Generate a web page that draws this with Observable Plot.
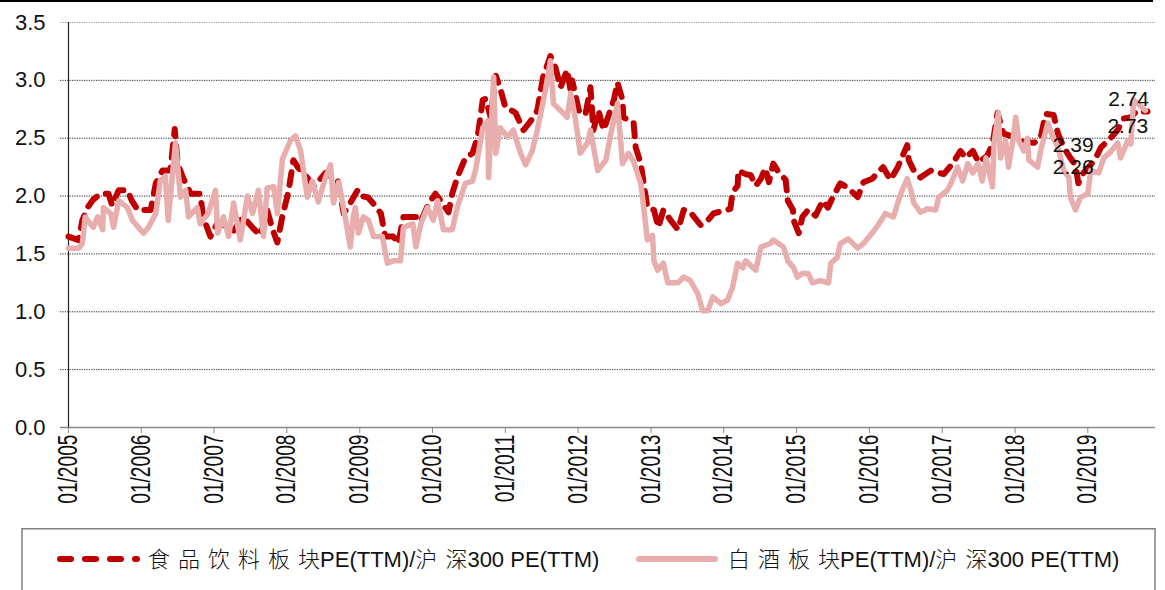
<!DOCTYPE html>
<html>
<head>
<meta charset="utf-8">
<script src="https://cdn.jsdelivr.net/npm/d3@7"></script>
<script src="https://cdn.jsdelivr.net/npm/@observablehq/plot@0.6"></script>
<style>
  html, body { margin: 0; padding: 0; background: #fff; }
  #wrap { position: relative; width: 1165px; height: 590px; overflow: hidden; }
  #topline { position: absolute; left: 0; top: 0; width: 1153px; height: 0; border-top: 2px solid #000; }
  #legend { display: block; }
</style>
</head>
<body>
<div id="wrap"><div id="topline"></div><div id="chart"></div></div>
<script>
// 食品饮料板块PE(TTM)/沪深300 PE(TTM) — [decimal year, value]
const foodSeries = [
  [2005.00,1.65],[2005.14,1.62],[2005.19,1.79],[2005.26,1.90],[2005.34,1.97],[2005.44,2.02],[2005.55,2.02],[2005.60,1.92],
  [2005.69,2.05],[2005.81,2.05],[2005.87,1.96],[2005.95,1.88],[2006.13,1.88],[2006.20,2.11],[2006.29,2.22],[2006.40,2.22],
  [2006.46,2.58],[2006.50,2.28],[2006.58,2.15],[2006.68,2.02],[2006.81,2.02],[2006.85,1.82],[2006.95,1.65],[2007.05,1.77],
  [2007.13,1.75],[2007.27,1.70],[2007.40,1.82],[2007.54,1.72],[2007.64,1.66],[2007.73,1.88],[2007.80,1.72],[2007.87,1.60],
  [2007.94,1.83],[2008.02,2.03],[2008.09,2.31],[2008.15,2.25],[2008.28,2.16],[2008.37,2.08],[2008.53,2.20],[2008.70,2.13],
  [2008.78,1.85],[2008.87,1.94],[2008.97,2.05],[2009.01,2.00],[2009.11,1.99],[2009.18,1.94],[2009.29,1.85],[2009.35,1.65],
  [2009.46,1.65],[2009.53,1.59],[2009.60,1.82],[2009.79,1.82],[2009.84,1.78],[2009.95,1.94],[2010.04,2.02],[2010.11,1.96],
  [2010.22,1.86],[2010.27,2.02],[2010.34,2.16],[2010.45,2.33],[2010.55,2.37],[2010.62,2.51],[2010.69,2.83],[2010.73,2.84],
  [2010.80,2.68],[2010.87,3.04],[2010.93,2.93],[2011.00,2.77],[2011.14,2.72],[2011.25,2.57],[2011.35,2.65],[2011.44,2.74],
  [2011.52,3.03],[2011.62,3.21],[2011.69,3.11],[2011.76,2.94],[2011.85,3.09],[2011.90,2.90],[2011.92,3.00],[2012.01,2.74],
  [2012.10,2.70],[2012.17,2.94],[2012.21,2.57],[2012.28,2.74],[2012.35,2.57],[2012.49,2.83],[2012.54,2.98],[2012.61,2.83],
  [2012.62,2.68],[2012.76,2.64],[2012.79,2.42],[2012.86,2.28],[2012.90,2.11],[2012.95,1.90],[2013.04,1.88],[2013.10,1.73],
  [2013.17,1.88],[2013.27,1.79],[2013.37,1.71],[2013.45,1.88],[2013.54,1.86],[2013.68,1.75],[2013.78,1.79],[2013.86,1.85],
  [2014.09,1.89],[2014.12,2.03],[2014.19,2.09],[2014.20,2.22],[2014.30,2.19],[2014.37,2.18],[2014.44,2.09],[2014.51,2.15],
  [2014.57,2.24],[2014.62,2.12],[2014.68,2.28],[2014.75,2.21],[2014.85,2.14],[2014.88,1.96],[2014.95,1.88],[2014.96,1.79],
  [2015.03,1.68],[2015.08,1.82],[2015.16,1.88],[2015.26,1.83],[2015.36,1.96],[2015.43,1.90],[2015.49,1.98],[2015.60,2.11],
  [2015.71,2.07],[2015.84,1.99],[2015.92,2.12],[2016.04,2.15],[2016.19,2.25],[2016.29,2.14],[2016.39,2.25],[2016.43,2.31],
  [2016.52,2.44],[2016.54,2.31],[2016.61,2.22],[2016.70,2.16],[2016.84,2.22],[2017.02,2.19],[2017.14,2.28],[2017.25,2.39],
  [2017.32,2.33],[2017.42,2.39],[2017.50,2.29],[2017.62,2.35],[2017.69,2.45],[2017.76,2.72],[2017.84,2.54],[2017.94,2.52],
  [2018.08,2.47],[2018.26,2.46],[2018.35,2.50],[2018.42,2.71],[2018.53,2.70],[2018.59,2.54],[2018.67,2.42],[2018.76,2.33],
  [2018.83,2.27],[2018.87,2.11],[2018.94,2.20],[2019.04,2.27],[2019.11,2.33],[2019.18,2.42],[2019.31,2.50],[2019.41,2.57],
  [2019.49,2.67],[2019.59,2.68],[2019.68,2.74],[2019.77,2.73],[2019.82,2.73]
];

// 白酒板块PE(TTM)/沪深300 PE(TTM) — [decimal year, value]
const liquorSeries = [
  [2005.00,1.55],[2005.14,1.55],[2005.19,1.59],[2005.23,1.82],[2005.30,1.76],[2005.34,1.73],[2005.40,1.82],[2005.47,1.71],
  [2005.48,1.90],[2005.58,1.85],[2005.62,1.73],[2005.69,1.96],[2005.81,1.90],[2005.88,1.79],[2005.96,1.73],[2006.03,1.68],
  [2006.10,1.73],[2006.20,1.85],[2006.26,2.13],[2006.33,2.17],[2006.37,1.79],[2006.47,2.46],[2006.54,1.99],[2006.61,2.05],
  [2006.65,1.82],[2006.77,1.90],[2006.81,1.76],[2006.92,1.85],[2007.02,2.05],[2007.05,1.68],[2007.13,1.82],[2007.20,1.65],
  [2007.27,1.94],[2007.36,1.62],[2007.46,2.00],[2007.53,1.85],[2007.61,2.05],[2007.68,1.65],[2007.73,2.07],[2007.82,2.08],
  [2007.87,1.85],[2007.94,2.32],[2008.05,2.48],[2008.12,2.52],[2008.19,2.39],[2008.28,1.99],[2008.35,2.13],[2008.43,1.95],
  [2008.53,2.16],[2008.60,2.27],[2008.64,1.94],[2008.71,2.12],[2008.80,1.82],[2008.87,1.56],[2008.91,1.82],[2008.94,1.90],
  [2008.98,1.68],[2009.05,1.82],[2009.12,1.79],[2009.19,1.65],[2009.31,1.65],[2009.38,1.42],[2009.46,1.44],[2009.56,1.44],
  [2009.60,1.73],[2009.73,1.76],[2009.77,1.56],[2009.84,1.76],[2009.93,1.90],[2010.01,1.79],[2010.07,1.96],[2010.15,1.71],
  [2010.27,1.71],[2010.34,1.90],[2010.45,2.11],[2010.55,2.13],[2010.59,2.22],[2010.69,2.59],[2010.76,2.65],[2010.77,2.16],
  [2010.84,3.03],[2010.87,2.37],[2010.93,2.59],[2011.03,2.51],[2011.11,2.57],[2011.21,2.37],[2011.28,2.27],[2011.37,2.39],
  [2011.44,2.57],[2011.55,2.91],[2011.62,3.17],[2011.66,2.80],[2011.76,2.74],[2011.85,2.68],[2011.90,2.89],[2011.96,2.68],
  [2012.03,2.37],[2012.13,2.46],[2012.17,2.57],[2012.27,2.22],[2012.38,2.31],[2012.45,2.54],[2012.54,2.80],[2012.61,2.28],
  [2012.69,2.37],[2012.76,2.30],[2012.86,2.11],[2012.90,1.90],[2012.95,1.62],[2013.02,1.66],[2013.04,1.44],[2013.09,1.36],
  [2013.17,1.42],[2013.23,1.25],[2013.37,1.25],[2013.45,1.30],[2013.54,1.27],[2013.64,1.16],[2013.71,1.01],[2013.78,1.01],
  [2013.85,1.13],[2013.96,1.07],[2014.05,1.10],[2014.12,1.21],[2014.19,1.42],[2014.26,1.38],[2014.30,1.44],[2014.44,1.36],
  [2014.51,1.56],[2014.64,1.59],[2014.68,1.62],[2014.82,1.56],[2014.88,1.44],[2014.96,1.38],[2015.01,1.30],[2015.08,1.33],
  [2015.16,1.33],[2015.22,1.25],[2015.33,1.27],[2015.44,1.25],[2015.47,1.42],[2015.56,1.47],[2015.60,1.59],[2015.71,1.63],
  [2015.84,1.55],[2015.92,1.59],[2016.04,1.68],[2016.13,1.76],[2016.22,1.85],[2016.33,1.82],[2016.43,2.02],[2016.52,2.15],
  [2016.57,2.05],[2016.61,1.94],[2016.70,1.86],[2016.80,1.89],[2016.91,1.88],[2016.95,1.99],[2017.07,2.05],[2017.12,2.11],
  [2017.21,2.25],[2017.28,2.13],[2017.35,2.28],[2017.42,2.20],[2017.49,2.28],[2017.55,2.13],[2017.60,2.33],[2017.69,2.08],
  [2017.71,2.45],[2017.77,2.72],[2017.80,2.33],[2017.87,2.48],[2017.91,2.25],[2017.97,2.48],[2018.01,2.68],[2018.05,2.48],
  [2018.12,2.39],[2018.17,2.50],[2018.19,2.31],[2018.31,2.25],[2018.35,2.39],[2018.45,2.63],[2018.52,2.51],[2018.59,2.42],
  [2018.67,2.22],[2018.74,2.16],[2018.76,1.99],[2018.83,1.88],[2018.90,1.99],[2019.00,2.02],[2019.04,2.22],[2019.15,2.20],
  [2019.22,2.33],[2019.31,2.38],[2019.41,2.46],[2019.45,2.33],[2019.55,2.48],[2019.59,2.45],[2019.63,2.83],[2019.79,2.74]
];

// value labels: [text, decimal year, value]
const valueLabels = [["2.74",2019.56,2.84],["2.73",2019.55,2.60],["2.39",2018.80,2.435],["2.26",2018.80,2.245]];

const yTicks = [0, 0.5, 1.0, 1.5, 2.0, 2.5, 3.0, 3.5];
const xStart = 2005.0, xEnd = 2019.93;
const seriesNames = ["食品饮料板块PE(TTM)/沪深300 PE(TTM)", "白酒板块PE(TTM)/沪深300 PE(TTM)"];
const seriesColors = ["#C00000", "#E8ADAD"];

function yearToDate(y) {
  const yr = Math.floor(y);
  const s = Date.UTC(yr, 0, 1), e = Date.UTC(yr + 1, 0, 1);
  return new Date(s + (y - yr) * (e - s));
}
const toRows = (arr) => arr.map(([t, v]) => ({date: yearToDate(t), value: v}));
const food = toRows(foodSeries);
const liquor = toRows(liquorSeries);
const labels = valueLabels.map(([txt, t, v]) => ({text: txt, date: yearToDate(t), value: v}));
const x0 = yearToDate(xStart), x1 = yearToDate(xEnd);
const yearTicks = d3.range(2005, 2020).map(y => new Date(Date.UTC(y, 0, 1)));

const svg = Plot.plot({
  width: 1165,
  height: 528,
  marginTop: 22,
  marginBottom: 101,
  marginLeft: 68,
  marginRight: 10,
  style: {fontFamily: "'Liberation Sans', Arial, sans-serif", color: "#111", background: "transparent", overflow: "visible"},
  x: {type: "utc", domain: [x0, x1]},
  y: {domain: [0, 3.5]},
  marks: [
    Plot.ruleY(yTicks.filter(d => d > 0), {y: d => d, stroke: d => d === 3.5 ? "#9a9a9a" : "#2a2a2a", strokeWidth: 1, strokeDasharray: "1.2,1.2", insetLeft: -8}),
    Plot.ruleY([0], {stroke: "#8a8a8a", strokeWidth: 1.6, insetLeft: -8}),
    Plot.ruleX([x0], {y1: 0, y2: 3.5, stroke: "#222", strokeWidth: 1.2}),
    Plot.axisY({ticks: yTicks, tickFormat: d3.format(".1f"), tickSize: 0, tickPadding: 23, fontSize: 22, label: null}),
    Plot.axisX({ticks: yearTicks, tickFormat: d3.utcFormat("%m/%Y"), tickRotate: -90, tickSize: 6, tickPadding: 1, fontSize: 27, stroke: "#8a8a8a", label: null}),
    Plot.line(food, {x: "date", y: "value", stroke: seriesColors[0], strokeWidth: 6, strokeDasharray: "13,10", strokeLinecap: "round", strokeLinejoin: "round"}),
    Plot.line(liquor, {x: "date", y: "value", stroke: seriesColors[1], strokeWidth: 5.5, strokeLinejoin: "round", strokeLinecap: "round"}),
    Plot.text(labels, {x: "date", y: "value", text: "text", fontSize: 21, fill: "#111", textAnchor: "middle"})
  ]
});

// condense the rotated year labels
d3.select(svg).selectAll('g[aria-label="x-axis tick label"] text').each(function() {
  const t = this.getAttribute("transform") || "";
  this.setAttribute("transform", t + " scale(0.71,1)");
});

document.getElementById("chart").appendChild(svg);

// legend
const lg = d3.select("#chart").append("svg").attr("id", "legend").attr("width", 1165).attr("height", 62);
lg.append("rect").attr("x", 22).attr("y", 0.75).attr("width", 1133).attr("height", 90)
  .attr("fill", "none").attr("stroke", "#7f7f7f").attr("stroke-width", 1.5);
lg.append("line").attr("x1", 60).attr("x2", 137).attr("y1", 31).attr("y2", 31)
  .attr("stroke", seriesColors[0]).attr("stroke-width", 6).attr("stroke-dasharray", "11,14").attr("stroke-linecap", "round");
lg.append("line").attr("x1", 639).attr("x2", 715).attr("y1", 31).attr("y2", 31)
  .attr("stroke", seriesColors[1]).attr("stroke-width", 6).attr("stroke-linecap", "round");

function legendText(x, name) {
  const t = lg.append("text").attr("x", x).attr("y", 39).attr("font-size", 22).attr("fill", "#111");
  const runs = name.match(/[\u4e00-\u9fff]+|[^\u4e00-\u9fff]+/g);
  runs.forEach(r => {
    const cjk = /[\u4e00-\u9fff]/.test(r);
    if (cjk) {
      const head = r.slice(0, -1), tail = r.slice(-1);
      if (head) t.append("tspan").text(head)
        .attr("font-family", "'Noto Sans CJK SC', sans-serif").attr("font-weight", 300).attr("letter-spacing", 8);
      t.append("tspan").text(tail)
        .attr("font-family", "'Noto Sans CJK SC', sans-serif").attr("font-weight", 300).attr("letter-spacing", 0);
    } else {
      t.append("tspan").text(r).attr("font-family", "'Liberation Sans', Arial, sans-serif").attr("letter-spacing", 0);
    }
  });
}
legendText(148, seriesNames[0]);
legendText(728, seriesNames[1]);
</script>
</body>
</html>
